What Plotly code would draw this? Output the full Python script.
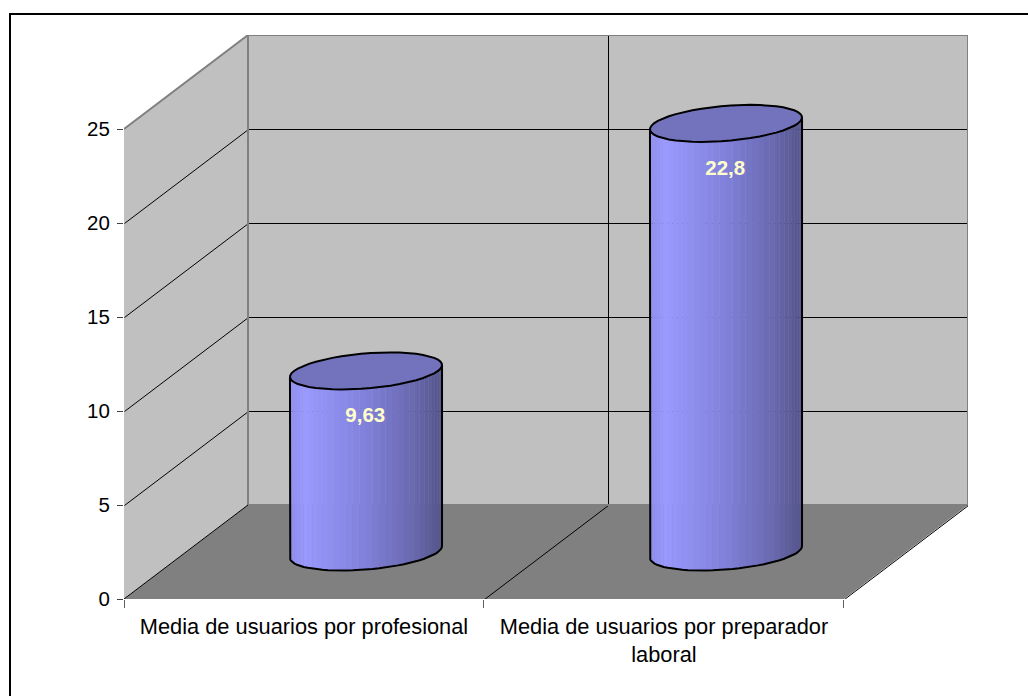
import math
import plotly.graph_objects as go

# ---- data ----
categories = ["Media de usuarios por profesional", "Media de usuarios por preparador<br>laboral"]
values = [9.63, 22.8]
value_labels = ["9,63", "22,8"]
y_ticks = [0, 5, 10, 15, 20, 25]

# ---- pixel layout of the plot ----
W, H = 1028, 696
ML, MR, MT, MB = 124, 60, 35, 97
CAT_PX = 360.0
VAL_PX = 18.8
DEPTH_X = 124 / CAT_PX      # category units per unit of depth
DEPTH_Y = 5.0               # value units per unit of depth
X_MAX = 2 + DEPTH_X
Y_MAX = 25 + DEPTH_Y
RX, RD = 0.2, 0.197         # cylinder radii (category units / depth units)
BLACK, GRAY, WALL, FLOOR = "#000000", "#808080", "#C0C0C0", "#808080"
HALF_X, HALF_Y = 0.5 / CAT_PX, 0.5 / VAL_PX


def P(x, v, d=0.0):
    return x + DEPTH_X * d, v + DEPTH_Y * d


def poly(points, fill=None, line=None, width=1, crisp=False, sx=None):
    shift_x = (HALF_X if sx is None else sx) if crisp else 0
    shift_y = -HALF_Y if crisp else 0
    xs = [p[0] + shift_x for p in points]
    ys = [p[1] + shift_y for p in points]
    tr = dict(x=xs, y=ys, hoverinfo="skip", showlegend=False, cliponaxis=False)
    if fill:
        tr.update(fill="toself", fillcolor=fill)
    if line:
        tr.update(mode="lines", line=dict(color=line, width=width))
    else:
        tr.update(mode="lines", line=dict(width=0))
    return go.Scatter(**tr)


def ell(cx, v, t):
    return P(cx + RX * math.cos(t), v, 0.5 + RD * math.sin(t))


def mix(a, b, f):
    return tuple(a[i] + (b[i] - a[i]) * f for i in range(3))


def shade(f):
    stops = [(0.0, (142, 142, 238)), (0.1, (153, 153, 255)), (0.45, (132, 132, 224)),
             (0.8, (106, 106, 178)), (1.0, (84, 84, 138))]
    for (f0, c0), (f1, c1) in zip(stops, stops[1:]):
        if f <= f1:
            c = mix(c0, c1, (f - f0) / (f1 - f0))
            return "rgb(%d,%d,%d)" % tuple(round(k) for k in c)
    return "rgb(84,84,138)"


fig = go.Figure()

# walls and floor
fig.add_trace(poly([P(0, 0), P(0, 25), P(0, 25, 1), P(0, 0, 1)], fill=WALL))
fig.add_trace(poly([P(0, 0, 1), P(0, 25, 1), P(2, 25, 1), P(2, 0, 1)], fill=WALL))
fig.add_trace(poly([P(0, 0), P(2, 0), P(2, 0, 1), P(0, 0, 1)], fill=FLOOR))

# gridlines
for v in y_ticks[1:-1]:
    fig.add_trace(poly([P(0, v), P(0, v, 1), P(2, v, 1)], line=BLACK, width=1, crisp=True))
fig.add_trace(poly([P(1, 0), P(1, 0, 1), P(1, 25, 1)], line=BLACK, width=1, crisp=True))

# wall edges
fig.add_trace(poly([P(0, 25), P(0, 25, 1), P(2, 25, 1), P(2, 0, 1), P(0, 0, 1), P(0, 25, 1)], line=GRAY, width=2))
fig.add_trace(poly([P(0, 0), P(2, 0), P(2, 0, 1)], line=BLACK, width=1, crisp=True))
fig.add_trace(poly([P(0, 25), P(0, -0.42)], line=BLACK, width=1, crisp=True, sx=-HALF_X))
fig.add_trace(poly([P(0, 0), P(0, 0, 1)], line=BLACK, width=1))

# cylinders
N = 36
for i, val in enumerate(values):
    cx = i + 0.5
    t_r = math.atan(DEPTH_X * RD / RX)   # right-most point, upper side
    t_l = math.pi + t_r                  # left-most point, lower side
    ts = [t_l + (t_r + 2 * math.pi - t_l) * k / N for k in range(N + 1)]
    x_l = ell(cx, 0, t_l)[0]
    x_r = ell(cx, 0, t_r)[0]
    for k in range(N):
        a, b = ts[k], ts[k + 1]
        f = (ell(cx, 0, (a + b) / 2)[0] - x_l) / (x_r - x_l)
        fig.add_trace(poly([ell(cx, 0, a), ell(cx, 0, b), ell(cx, val, b), ell(cx, val, a)],
                           fill=shade(f), line=shade(f), width=0.6))
    lower = [ell(cx, 0, t) for t in ts]
    fig.add_trace(poly([ell(cx, val, t_l)] + lower + [ell(cx, val, t_r)], line=BLACK, width=2))
    full = [ell(cx, val, 2 * math.pi * k / 48) for k in range(49)]
    fig.add_trace(poly(full, fill="#7373BD", line=BLACK, width=2))

# data labels
lx, ly = [], []
for i, val in enumerate(values):
    x, y = P(i + 0.5, val, 0.5)
    lx.append(x - 0.002)
    ly.append(y - 2.46)
fig.add_trace(go.Scatter(x=lx, y=ly, mode="text", text=value_labels, hoverinfo="skip", showlegend=False,
                         cliponaxis=False,
                         textfont=dict(family="Liberation Sans", size=20.5, color="#FFFFCC", weight="bold")))

pw, ph = W - ML - MR, H - MT - MB
fig.update_layout(
    width=W, height=H, autosize=False, showlegend=False,
    margin=dict(l=ML, r=MR, t=MT, b=MB, pad=0),
    paper_bgcolor="white", plot_bgcolor="white",
    font=dict(family="Liberation Sans", size=20.5, color="black"),
    xaxis=dict(range=[0, X_MAX], showgrid=False, zeroline=False, showline=False,
               tickmode="array", tickvals=[0.5, 1.5], ticktext=categories, ticks="",
               tickfont=dict(size=21.8), ticklabelstandoff=12,
               minor=dict(tickmode="array", tickvals=[0, 1 - HALF_X, 2 - HALF_X], ticks="outside", ticklen=8,
                          tickcolor="#606060", tickwidth=1, showgrid=False)),
    yaxis=dict(range=[0, Y_MAX], showgrid=False, zeroline=False, showline=False,
               tickmode="array", tickvals=y_ticks, ticktext=[str(v) for v in y_ticks],
               ticks="outside", ticklen=6, tickcolor="#404040", tickwidth=1, ticklabelstandoff=3),
    shapes=[
        dict(type="line", xref="paper", yref="paper", layer="below",
             x0=(10 - ML) / pw, x1=(W - ML) / pw, y0=(H - MB - 14) / ph, y1=(H - MB - 14) / ph,
             line=dict(color="black", width=2)),
        dict(type="line", xref="paper", yref="paper", layer="below",
             x0=(10 - ML) / pw, x1=(10 - ML) / pw, y0=-MB / ph, y1=(H - MB - 13) / ph,
             line=dict(color="black", width=2)),
    ],
)

fig.write_html("out.html", config=dict(displayModeBar=False),
               post_script="document.body.style.margin='0';document.body.style.overflow='hidden';")
